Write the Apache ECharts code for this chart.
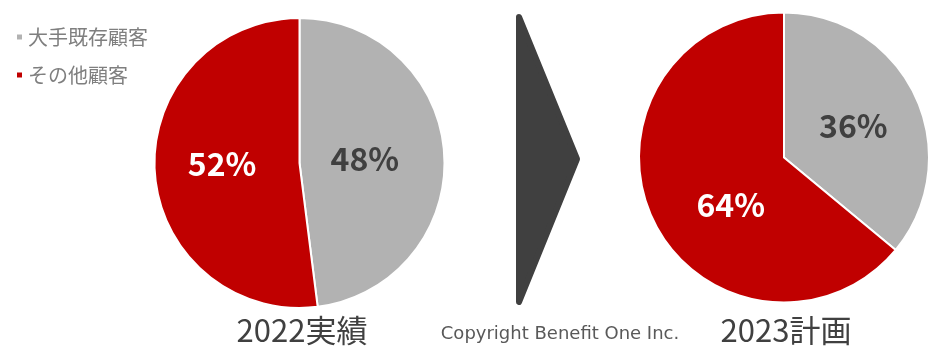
<!DOCTYPE html>
<html>
<head>
<meta charset="utf-8">
<script src="https://cdn.jsdelivr.net/npm/echarts@6/dist/echarts.min.js"></script>
<style>
html,body{margin:0;padding:0;background:#fff;}
#c{width:932px;height:347px;}
</style>
</head>
<body>
<div id="c"></div>
<script>
var categories = ['大手既存顧客', 'その他顧客'];
var values2022 = [48, 52];
var values2023 = [36, 64];
var titles = ['2022実績', '2023計画'];
var copyright = 'Copyright Benefit One Inc.';

var colors = ['#B2B2B2', '#C00000'];
var labelColors = ['#404040', '#ffffff'];
var FONT = '"Noto Sans CJK JP", "Noto Sans", sans-serif';

function pie(vals, center, r, offsets) {
  return {
    type: 'pie', center: center, radius: r, startAngle: 90, clockwise: true,
    silent: true,
    data: categories.map(function (n, i) {
      return { name: n, value: vals[i], itemStyle: { color: colors[i] },
        label: { color: labelColors[i], offset: offsets[i] } };
    }),
    itemStyle: { borderColor: '#fff', borderWidth: 2 },
    label: { show: true, position: 'inside', formatter: '{c}%', fontFamily: FONT,
      fontWeight: 'bold', fontSize: 32 },
    labelLine: { show: false }
  };
}

var chart = echarts.init(document.getElementById('c'));
chart.setOption({
  backgroundColor: '#fff',
  animation: false,
  legend: {
    data: categories, orient: 'vertical', left: 10, top: 22,
    icon: 'rect', itemWidth: 7, itemHeight: 7, itemGap: 18,
    textStyle: { color: '#7F7F7F', fontSize: 20, fontFamily: FONT },
    selectedMode: false
  },
  series: [
    pie(values2022, [299.5, 163], 145, [[-10, 1], [-2, -4]]),
    pie(values2023, [784, 157.5], 145, [[1, 0], [15, 15]])
  ],
  graphic: [
    { type: 'polygon', shape: { points: [[519, 17], [577, 159], [519, 302]] },
      style: { fill: '#404040', stroke: '#404040', lineWidth: 6, lineJoin: 'round' } },
    { type: 'text', style: { text: titles[0], x: 302, y: 330, align: 'center', verticalAlign: 'middle',
      fontSize: 31, fontFamily: FONT, fill: '#404040' } },
    { type: 'text', style: { text: titles[1], x: 786, y: 330, align: 'center', verticalAlign: 'middle',
      fontSize: 31, fontFamily: FONT, fill: '#404040' } },
    { type: 'text', style: { text: copyright, x: 560, y: 334, align: 'center', verticalAlign: 'middle',
      fontSize: 18, fontFamily: '"DejaVu Sans", sans-serif', fill: '#595959' } }
  ]
});
</script>
</body>
</html>
